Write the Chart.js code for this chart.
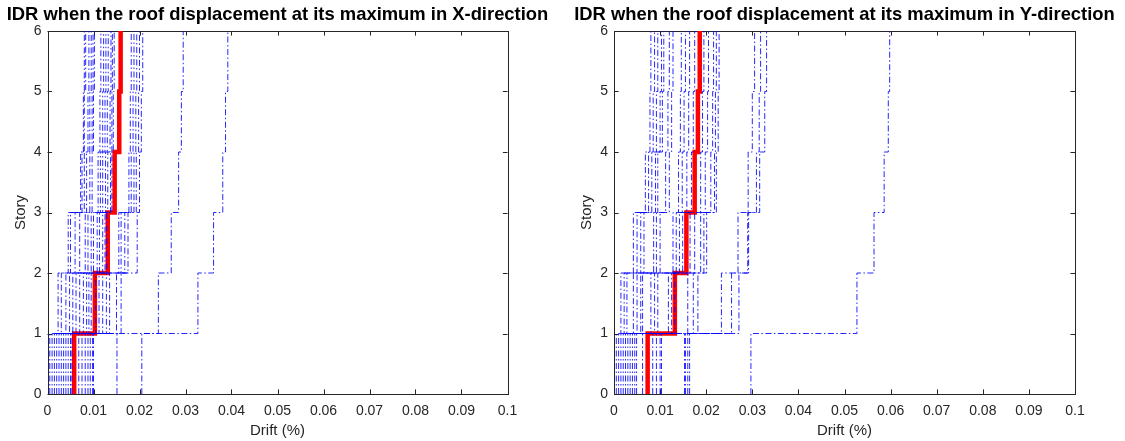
<!DOCTYPE html>
<html>
<head>
<meta charset="utf-8">
<script src="https://cdn.jsdelivr.net/npm/chart.js@4.4.1/dist/chart.umd.min.js"></script>
<style>
  html, body { margin: 0; padding: 0; background: #fff; width: 1125px; height: 441px; overflow: hidden; }
  .panel { position: absolute; top: 0; height: 441px; }
  #left { left: 0; width: 562px; }
  #right { left: 562px; width: 563px; }
</style>
</head>
<body>
<div class="panel" id="left"><canvas id="cx" width="562" height="441"></canvas></div>
<div class="panel" id="right"><canvas id="cy" width="563" height="441"></canvas></div>
<script>
// Story levels (floor 0 = ground) and axis ticks
const storyTicks = [0, 1, 2, 3, 4, 5, 6];
const storyTickLabels = ['0', '1', '2', '3', '4', '5', '6'];
const driftTicks = [0, 0.01, 0.02, 0.03, 0.04, 0.05, 0.06, 0.07, 0.08, 0.09, 0.1];
const driftTickLabels = ['0', '0.01', '0.02', '0.03', '0.04', '0.05', '0.06', '0.07', '0.08', '0.09', '0.1'];

// Inter-story drift (%) per record, stories 1..6, X-direction
const idrRecordsX = [
  [0.0005, 0.0023, 0.0045, 0.0075, 0.0078, 0.0080],
  [0.0010, 0.0030, 0.0050, 0.0072, 0.0080, 0.0083],
  [0.0015, 0.0040, 0.0060, 0.0085, 0.0088, 0.0090],
  [0.0020, 0.0048, 0.0070, 0.0080, 0.0092, 0.0095],
  [0.0025, 0.0055, 0.0082, 0.0092, 0.0097, 0.0099],
  [0.0030, 0.0062, 0.0088, 0.0097, 0.0100, 0.0102],
  [0.0035, 0.0070, 0.0095, 0.0110, 0.0114, 0.0116],
  [0.0040, 0.0078, 0.0100, 0.0115, 0.0120, 0.0122],
  [0.0045, 0.0085, 0.0108, 0.0120, 0.0125, 0.0127],
  [0.0050, 0.0090, 0.0113, 0.0126, 0.0130, 0.0132],
  [0.0053, 0.0095, 0.0120, 0.0131, 0.0136, 0.0138],
  [0.0068, 0.0105, 0.0125, 0.0137, 0.0140, 0.0141],
  [0.0075, 0.0112, 0.0129, 0.0140, 0.0143, 0.0145],
  [0.0082, 0.0120, 0.0155, 0.0177, 0.0180, 0.0182],
  [0.0088, 0.0128, 0.0160, 0.0182, 0.0186, 0.0188],
  [0.0093, 0.0135, 0.0168, 0.0188, 0.0192, 0.0194],
  [0.0098, 0.0150, 0.0175, 0.0193, 0.0198, 0.0200],
  [0.0100, 0.0160, 0.0195, 0.0200, 0.0204, 0.0207],
  [0.0151, 0.0241, 0.0269, 0.0285, 0.0291, 0.0295],
  [0.0205, 0.0327, 0.0361, 0.0381, 0.0387, 0.0392]
];
const idrMeanX = [0.0058, 0.0103, 0.0131, 0.0146, 0.0156, 0.0159];

// Inter-story drift (%) per record, stories 1..6, Y-direction
const idrRecordsY = [
  [0.0005, 0.0015, 0.0042, 0.0068, 0.0078, 0.0080],
  [0.0010, 0.0022, 0.0050, 0.0075, 0.0085, 0.0088],
  [0.0015, 0.0028, 0.0058, 0.0082, 0.0092, 0.0095],
  [0.0020, 0.0042, 0.0065, 0.0090, 0.0100, 0.0103],
  [0.0025, 0.0050, 0.0086, 0.0095, 0.0105, 0.0108],
  [0.0030, 0.0058, 0.0092, 0.0112, 0.0117, 0.0120],
  [0.0035, 0.0062, 0.0100, 0.0120, 0.0125, 0.0128],
  [0.0040, 0.0080, 0.0128, 0.0140, 0.0144, 0.0146],
  [0.0045, 0.0088, 0.0135, 0.0148, 0.0152, 0.0155],
  [0.0049, 0.0095, 0.0142, 0.0158, 0.0162, 0.0164],
  [0.0062, 0.0118, 0.0149, 0.0168, 0.0172, 0.0175],
  [0.0084, 0.0125, 0.0165, 0.0188, 0.0192, 0.0195],
  [0.0092, 0.0132, 0.0175, 0.0198, 0.0203, 0.0205],
  [0.0100, 0.0160, 0.0188, 0.0210, 0.0214, 0.0216],
  [0.0103, 0.0172, 0.0195, 0.0218, 0.0220, 0.0222],
  [0.0155, 0.0182, 0.0201, 0.0222, 0.0226, 0.0228],
  [0.0160, 0.0233, 0.0290, 0.0309, 0.0315, 0.0318],
  [0.0153, 0.0255, 0.0269, 0.0291, 0.0300, 0.0305],
  [0.0164, 0.0271, 0.0292, 0.0316, 0.0327, 0.0331],
  [0.0297, 0.0527, 0.0564, 0.0586, 0.0595, 0.0598]
];
const idrMeanY = [0.0073, 0.0132, 0.0157, 0.0175, 0.0182, 0.0186];

const FONT = '"Liberation Sans", Arial, Helvetica, sans-serif';
const AXIS_COLOR = '#262626';

// Stair profile: each story's drift held constant between its floor and ceiling
function stairs(drifts) {
  const pts = [];
  drifts.forEach((d, i) => {
    pts.push({ x: d, y: storyTicks[i] });
    pts.push({ x: d, y: storyTicks[i + 1] });
  });
  return pts;
}

// Box around the axes with inward tick marks on all four sides
const axesFrame = {
  id: 'axesFrame',
  beforeDatasetsDraw(chart) {
    const { ctx, chartArea: a, scales } = chart;
    const tl = 4.6;
    ctx.save();
    ctx.strokeStyle = AXIS_COLOR;
    ctx.lineWidth = 1;
    ctx.beginPath();
    driftTicks.forEach(v => {
      const px = Math.round(scales.x.getPixelForValue(v)) + 0.5;
      ctx.moveTo(px, a.bottom); ctx.lineTo(px, a.bottom - tl);
      ctx.moveTo(px, a.top); ctx.lineTo(px, a.top + tl);
    });
    storyTicks.forEach(v => {
      const py = Math.round(scales.y.getPixelForValue(v)) + 0.5;
      ctx.moveTo(a.left, py); ctx.lineTo(a.left + tl, py);
      ctx.moveTo(a.right, py); ctx.lineTo(a.right - tl, py);
    });
    ctx.stroke();
    ctx.strokeRect(Math.round(a.left) + 0.5, Math.round(a.top) + 0.5,
                   Math.round(a.right - a.left), Math.round(a.bottom - a.top));
    ctx.restore();
  }
};

// Title and axis captions
const captions = {
  id: 'captions',
  afterDraw(chart, args, opts) {
    const { ctx, chartArea: a } = chart;
    const cx = (a.left + a.right) / 2;
    ctx.save();
    ctx.textAlign = 'center';
    ctx.textBaseline = 'middle';
    ctx.fillStyle = '#000';
    ctx.font = 'bold 18.4px ' + FONT;
    ctx.fillText(opts.title, cx, 15);
    ctx.fillStyle = AXIS_COLOR;
    ctx.font = '15px ' + FONT;
    ctx.fillText('Drift (%)', cx, 431);
    ctx.translate(a.left - 27, (a.top + a.bottom) / 2);
    ctx.rotate(-Math.PI / 2);
    ctx.fillText('Story', 0, 0);
    ctx.restore();
  }
};

function makeChart(canvasId, records, mean, title, padLeft, padRight) {
  const datasets = records.map(r => ({
    data: stairs(r),
    showLine: true,
    borderColor: 'rgba(0, 0, 255, 0.95)',
    borderWidth: 0.9,
    borderDash: [6, 2.5, 1.5, 2.5],
    pointRadius: 0,
    fill: false
  }));
  datasets.push({
    data: stairs(mean),
    showLine: true,
    borderColor: '#ff0000',
    borderWidth: 4.5,
    borderJoinStyle: 'miter',
    pointRadius: 0,
    fill: false
  });
  return new Chart(document.getElementById(canvasId), {
    type: 'scatter',
    data: { datasets },
    plugins: [axesFrame, captions],
    options: {
      responsive: false,
      animation: false,
      layout: { padding: { left: padLeft, right: padRight, top: 31, bottom: 22 } },
      plugins: {
        legend: { display: false },
        tooltip: { enabled: false },
        captions: { title }
      },
      scales: {
        x: {
          type: 'linear', min: 0, max: 0.1,
          afterBuildTicks: s => { s.ticks = driftTicks.map(v => ({ value: v })); },
          afterFit: s => { s.height = 25; },
          grid: { display: false, drawTicks: false },
          border: { display: false },
          ticks: {
            padding: 9, color: AXIS_COLOR, autoSkip: false, maxRotation: 0,
            font: { family: FONT, size: 14 },
            callback: (v, i) => driftTickLabels[i]
          }
        },
        y: {
          type: 'linear', min: 0, max: 6,
          afterBuildTicks: s => { s.ticks = storyTicks.map(v => ({ value: v })); },
          afterFit: s => { s.width = 30; },
          grid: { display: false, drawTicks: false },
          border: { display: false },
          ticks: {
            padding: 6, color: AXIS_COLOR, autoSkip: false,
            font: { family: FONT, size: 14 },
            callback: (v, i) => storyTickLabels[i]
          }
        }
      }
    }
  });
}

makeChart('cx', idrRecordsX, idrMeanX,
  'IDR when the roof displacement at its maximum in X-direction', 17.5, 54.5);
makeChart('cy', idrRecordsY, idrMeanY,
  'IDR when the roof displacement at its maximum in Y-direction', 22, 50);
</script>
</body>
</html>
